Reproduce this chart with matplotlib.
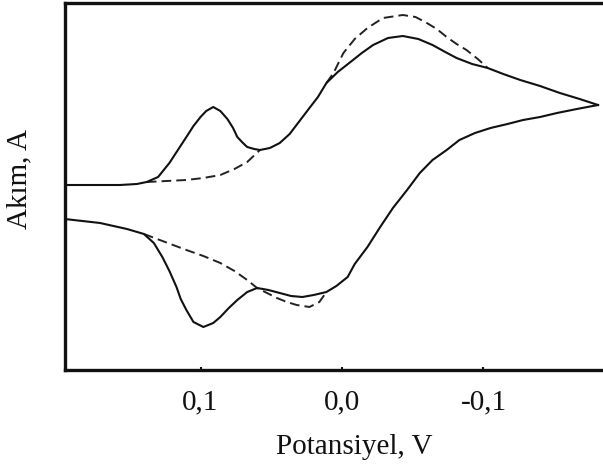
import numpy as np
import matplotlib
matplotlib.use('Agg')
import matplotlib.pyplot as plt

# =============================================================================
#                       Voltammogram data (E in V, I arbitrary)
# =============================================================================

# forward scan, solid line (potential going negative)
fwd_E = [0.196, 0.157, 0.145, 0.138, 0.130, 0.122, 0.116, 0.110, 0.105, 0.100,
         0.096, 0.091, 0.086, 0.081, 0.077, 0.074, 0.070, 0.067, 0.062, 0.058,
         0.051, 0.044, 0.037, 0.030, 0.023, 0.017, 0.011, 0.003, -0.006,
         -0.014, -0.022, -0.0325, -0.043, -0.054, -0.064, -0.073, -0.081,
         -0.092, -0.103, -0.114, -0.126, -0.140, -0.154, -0.168, -0.181]
fwd_I = [0.0, 0.0, 0.1, 0.3, 0.8, 2.2, 3.5, 4.8, 5.9, 6.8,
         7.4, 7.8, 7.4, 6.6, 5.7, 4.8, 4.2, 3.8, 3.6, 3.5,
         3.7, 4.2, 5.1, 6.4, 7.7, 8.8, 10.2, 11.3, 12.3,
         13.2, 14.0, 14.7, 14.9, 14.6, 14.0, 13.3, 12.7,
         12.1, 11.7, 11.1, 10.5, 9.9, 9.2, 8.6, 8.0]

# reverse scan, solid line (potential going back positive)
rev_E = [-0.181, -0.166, -0.152, -0.140, -0.128, -0.117, -0.105, -0.094,
         -0.083, -0.074, -0.064, -0.055, -0.046, -0.036, -0.027,
         -0.018, -0.009, -0.004, 0.004, 0.011, 0.020, 0.028, 0.036, 0.044,
         0.052, 0.060, 0.067, 0.074, 0.080, 0.086, 0.091, 0.098, 0.105,
         0.110, 0.114, 0.117, 0.122, 0.127, 0.133, 0.140, 0.152, 0.171, 0.196]
rev_I = [8.0, 7.6, 7.2, 6.8, 6.5, 6.1, 5.7, 5.2,
         4.5, 3.5, 2.5, 1.2, -0.5, -2.3, -4.2,
         -6.2, -7.9, -9.2, -10.1, -10.7, -11.0, -11.2, -11.1, -10.8,
         -10.5, -10.3, -10.7, -11.5, -12.3, -13.2, -13.8, -14.2, -13.7,
         -12.5, -11.4, -10.2, -8.6, -7.2, -5.8, -4.9, -4.4, -3.8, -3.4]

# dashed curves (without the first couple)
dash_base_E = [0.138, 0.124, 0.110, 0.098, 0.086, 0.076, 0.067, 0.058]
dash_base_I = [0.3, 0.4, 0.5, 0.7, 1.0, 1.6, 2.3, 3.5]

dash_top_E = [0.011, 0.006, -0.001, -0.009, -0.018, -0.029, -0.043, -0.052,
              -0.060, -0.067, -0.074, -0.081, -0.088, -0.096, -0.103]
dash_top_I = [10.2, 11.2, 13.2, 14.6, 15.7, 16.7, 17.0, 16.8,
              16.2, 15.6, 14.8, 14.1, 13.5, 12.6, 11.7]

dash_low_E = [0.140, 0.125, 0.110, 0.098, 0.086, 0.076, 0.067, 0.060, 0.053,
              0.046, 0.039, 0.032, 0.023, 0.016, 0.011]
dash_low_I = [-4.9, -5.7, -6.5, -7.1, -7.8, -8.6, -9.5, -10.3, -10.8,
              -11.3, -11.7, -12.0, -12.2, -11.7, -10.7]

ticks = [0.1, 0.0, -0.1]
tick_labels = ['0,1', '0,0', '-0,1']

# =============================================================================
#                               Plotting
# =============================================================================

plt.rcParams['font.family'] = ['Liberation Serif', 'DejaVu Serif']

fig = plt.figure(figsize=(6.03, 4.66), dpi=100)
ax = fig.add_axes([65/603, 96/466, 1 - 65/603, 367/466])

dash_kw = dict(color='#222222', lw=1.4, ls=(0, (5, 2.6)), zorder=2)
ax.plot(dash_base_E, dash_base_I, **dash_kw)
ax.plot(dash_top_E, dash_top_I, **dash_kw)
ax.plot(dash_low_E, dash_low_I, **dash_kw)

ax.plot(fwd_E, fwd_I, color='#111111', lw=1.5, zorder=3)
ax.plot(rev_E, rev_I, color='#111111', lw=1.5, zorder=3)

ax.set_xlim(0.1958, -0.1845)
ax.set_ylim(-18.5, 18.2)

ax.set_xticks(ticks)
ax.set_xticklabels(tick_labels)
ax.set_yticks([])
ax.tick_params(axis='x', direction='in', length=2, width=1.5,
               labelsize=21, pad=14, colors='#111111')

for side in ['left', 'top', 'bottom']:
    ax.spines[side].set_linewidth(2.4)
    ax.spines[side].set_color('#111111')
ax.spines['right'].set_visible(False)

ax.set_xlabel('Potansiyel, V', fontsize=21, color='#111111')
ax.xaxis.set_label_coords(0.537, -0.175)
ax.set_ylabel('Akım, A', fontsize=21, color='#111111')
ax.yaxis.set_label_coords(-0.060, 0.52)

fig.savefig('out.png', dpi=100)
